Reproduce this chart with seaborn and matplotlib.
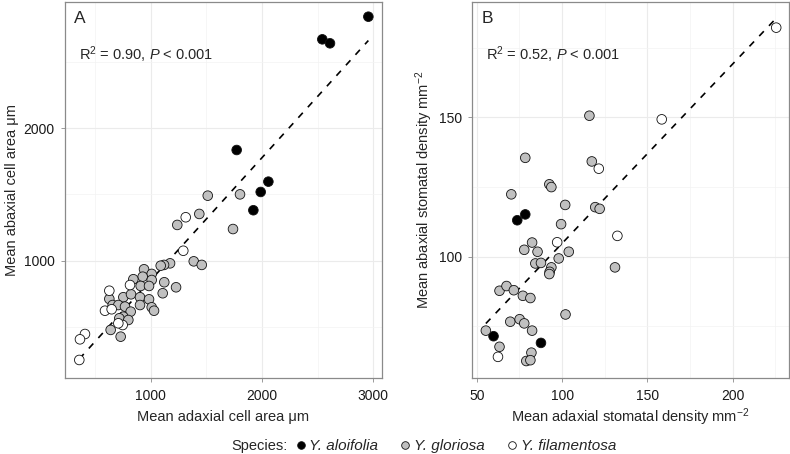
import numpy as np
import pandas as pd
import matplotlib
matplotlib.use("Agg")
import matplotlib.pyplot as plt
from matplotlib.lines import Line2D
import seaborn as sns

# ---------------- data ----------------
species_names = ["Y. aloifolia", "Y. gloriosa", "Y. filamentosa"]

# Panel A: mean adaxial vs abaxial cell area
a_alo_x = [2957, 2543, 2612, 1773, 2058, 1989, 1923]
a_alo_y = [2843, 2672, 2642, 1836, 1597, 1519, 1381]
a_glo_x = [1174, 1120, 1090, 940, 1009, 928, 844, 1009, 1122, 910, 985, 1228, 1108,
           628, 754, 823, 904, 985, 658, 709, 769, 904, 1009, 1030, 820, 754, 718,
           799, 640, 730, 1513, 1803, 1437, 1239, 1740, 1387, 1459]
a_glo_y = [980, 968, 962, 935, 900, 879, 860, 854, 837, 809, 809, 799, 754,
           711, 724, 746, 724, 708, 665, 665, 653, 665, 648, 622, 615, 577, 565,
           552, 477, 426, 1491, 1501, 1353, 1270, 1239, 995, 968]
a_fil_x = [814, 628, 589, 649, 748, 709, 409, 364, 358, 1315, 1293]
a_fil_y = [816, 773, 622, 633, 514, 527, 446, 406, 250, 1328, 1075]

# Panel B: mean adaxial vs abaxial stomatal density
b_alo_x = [73.7, 78.4, 59.8, 87.6]
b_alo_y = [113.1, 115.2, 71.5, 69.1]
b_glo_x = [116.0, 78.4, 117.4, 92.5, 93.7, 70.2, 101.8, 119.4, 122.0, 99.4, 82.4, 77.8,
           85.6, 103.9, 98.0, 84.3, 87.6, 93.7, 92.7, 92.5, 131.0, 63.3, 67.4, 71.7,
           77.0, 81.4, 102.0, 69.6, 75.1, 77.8, 82.4, 55.3, 63.3, 82.0, 79.0, 81.4]
b_glo_y = [150.6, 135.5, 134.2, 126.0, 125.0, 122.4, 118.6, 117.8, 117.2, 111.7, 105.1, 102.5,
           101.8, 101.8, 99.4, 97.6, 97.8, 96.2, 94.6, 93.8, 96.2, 87.8, 89.5, 88.0,
           86.0, 85.2, 79.3, 76.7, 77.6, 76.1, 73.5, 73.5, 67.7, 65.6, 62.6, 62.9]
b_fil_x = [225.5, 158.4, 121.5, 132.4, 97.1, 62.4]
b_fil_y = [182.2, 149.3, 131.6, 107.5, 105.2, 64.1]

a_ticks_x = [1000, 2000, 3000]
a_ticks_y = [1000, 2000]
b_ticks_x = [50, 100, 150, 200]
b_ticks_y = [100, 150]

def frame(xs, ys):
    rows = []
    for sp, x, y in zip(species_names, xs, ys):
        rows.append(pd.DataFrame({"x": x, "y": y, "species": sp}))
    return pd.concat(rows, ignore_index=True)

dfA = frame([a_alo_x, a_glo_x, a_fil_x], [a_alo_y, a_glo_y, a_fil_y])
dfB = frame([b_alo_x, b_glo_x, b_fil_x], [b_alo_y, b_glo_y, b_fil_y])

# ---------------- style ----------------
sns.set_style("white")
plt.rcParams["font.family"] = ["Liberation Sans", "DejaVu Sans"]
plt.rcParams["mathtext.fontset"] = "custom"
plt.rcParams["mathtext.rm"] = "Liberation Sans"
plt.rcParams["mathtext.it"] = "Liberation Sans:italic"
plt.rcParams["mathtext.default"] = "regular"

palette = {"Y. aloifolia": "#000000", "Y. gloriosa": "#c0c0c0", "Y. filamentosa": "#ffffff"}

W, H = 790, 454
fig = plt.figure(figsize=(W / 100, H / 100), dpi=100)

def px_axes(l, t, r, b):
    return fig.add_axes([l / W, 1 - b / H, (r - l) / W, (b - t) / H])

axA = px_axes(64.5, 2, 381.7, 377.7)
axB = px_axes(471.7, 2, 789, 378.3)

def style_axis(ax, xlim, ylim, xt, yt, xminor, yminor):
    ax.set_xlim(*xlim)
    ax.set_ylim(*ylim)
    ax.set_xticks(xt)
    ax.set_yticks(yt)
    ax.set_xticks(xminor, minor=True)
    ax.set_yticks(yminor, minor=True)
    ax.grid(True, which="major", color="#ebebeb", lw=0.8, zorder=0)
    ax.grid(True, which="minor", color="#f3f3f3", lw=0.5, zorder=0)
    ax.set_axisbelow(True)
    for s in ax.spines.values():
        s.set_color("#8a8a8a")
        s.set_linewidth(0.9)
    ax.tick_params(which="major", direction="out", length=3, width=0.6, color="#8a8a8a",
                   labelsize=10, labelcolor="#1a1a1a", bottom=True, left=True)
    ax.tick_params(axis="x", which="major", pad=5)
    ax.tick_params(axis="y", which="major", pad=4)
    ax.tick_params(which="minor", length=0)

def draw(ax, df):
    sns.regplot(data=df, x="x", y="y", scatter=False, ci=None, ax=ax, truncate=True,
                line_kws=dict(color="black", lw=1.2, dashes=(4, 4.5), zorder=2))
    sns.scatterplot(data=df, x="x", y="y", hue="species", hue_order=species_names,
                    palette=palette, s=48, edgecolor="#111111", linewidth=0.6,
                    legend=False, ax=ax, zorder=3)

draw(axA, dfA)
draw(axB, dfB)

style_axis(axA, (225, 3077), (116, 2954), a_ticks_x, a_ticks_y, [500, 1500, 2500], [500, 1500, 2500])
style_axis(axB, (47, 233), (56.4, 191.4), b_ticks_x, b_ticks_y, [75, 125, 175, 225], [75, 125, 175])

axA.set_xlabel("Mean adaxial cell area \u03bcm", fontsize=10.5)
axA.set_ylabel("Mean abaxial cell area \u03bcm", fontsize=10.5)
axB.set_xlabel("Mean adaxial stomatal density mm$^{\u22122}$", fontsize=10.5)
axB.set_ylabel("Mean abaxial stomatal density mm$^{\u22122}$", fontsize=10.5)

for ax, left_px, bottom_px, ylab_x in [(axA, 64.5, 377.7, 12.5), (axB, 471.7, 378.3, 424.5)]:
    ax.xaxis.label.set_va("baseline")
    ax.xaxis.set_label_coords(0.5, (bottom_px - 421.5) / (bottom_px - 2))
    ax.yaxis.label.set_va("center")
    ax.yaxis.set_label_coords((ylab_x - left_px) / 317.2, 0.5)

for ax, lab, r2 in [(axA, "A", "0.90"), (axB, "B", "0.52")]:
    ax.text(0.031, 0.955, lab, transform=ax.transAxes, fontsize=12.5, va="center", ha="left")
    ax.text(0.045, 0.86, "R$^{2}$ = " + r2 + ", $\\mathit{P}$ < 0.001", transform=ax.transAxes,
            fontsize=10.5, va="center", ha="left")

# legend
fig.text(231 / W, 1 - 446 / H, "Species:", fontsize=10.5, va="center", ha="left")
handles = [Line2D([], [], marker="o", ls="none", markersize=5.5, markerfacecolor=palette[s],
                  markeredgecolor="#111111", markeredgewidth=0.6) for s in species_names]
fig.legend(handles, species_names, loc="center left", bbox_to_anchor=(296 / W, 1 - 446 / H),
           ncol=3, frameon=False, prop={"style": "italic", "size": 11},
           handletextpad=0.25, columnspacing=1.5, handlelength=0.6, borderaxespad=0, borderpad=0)

fig.savefig("out.png", dpi=100)
